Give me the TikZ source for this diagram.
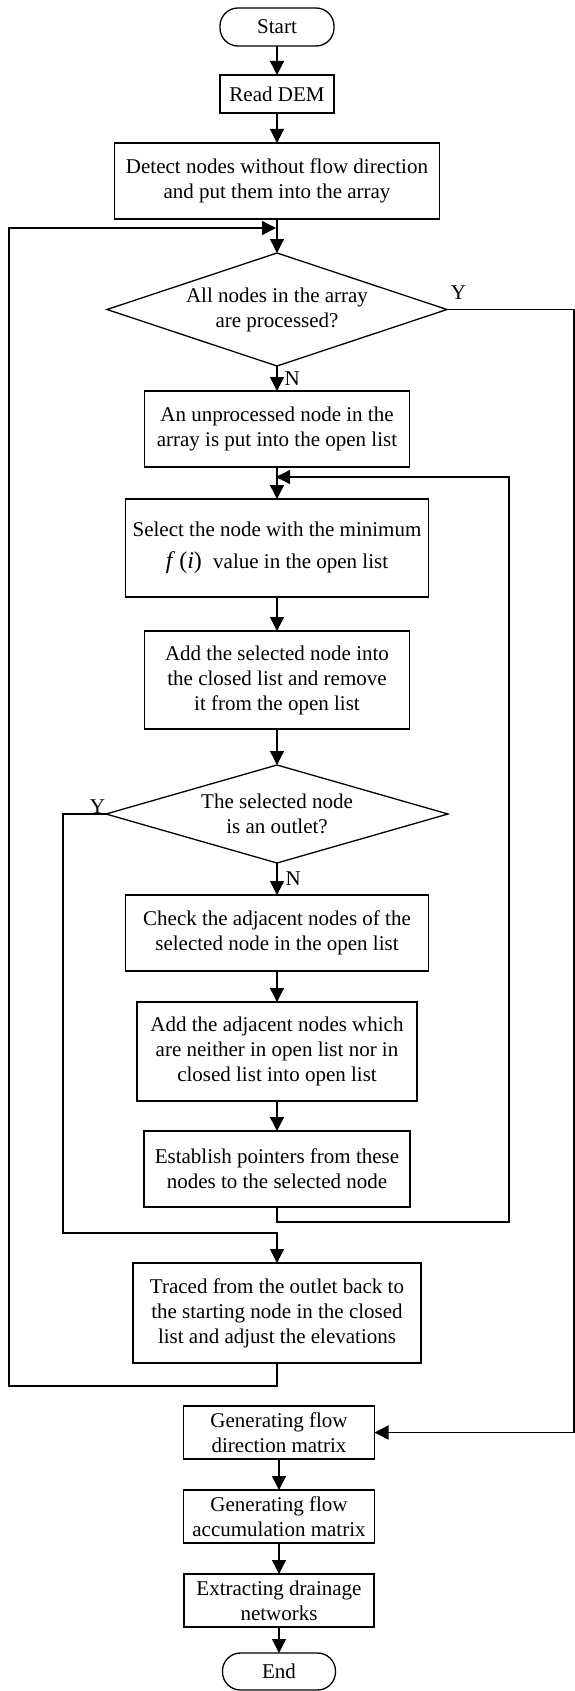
\documentclass[tikz,border=0pt]{standalone}
\usepackage{fontspec}
\setmainfont{Liberation Serif}
\usetikzlibrary{calc}
\usetikzlibrary{arrows.meta, positioning, shapes.geometric}

\begin{document}
\begin{tikzpicture}[
    x=1pt, y=1pt,
    every node/.style={font=\fontsize{21}{25}\selectfont},
    proc/.style={draw, line width=1.3pt, align=center, inner sep=0pt, outer sep=0pt},
    term/.style={proc, rounded corners=18pt},
    decision/.style={draw, diamond, aspect=3, line width=1.3pt, align=center, inner sep=0pt, outer sep=0pt},
    arrow/.style={-{Triangle[length=14pt, width=14pt]}, line width=1.3pt}
]
\useasboundingbox (0,0) rectangle (575,-1691);

% Nœuds
\node[term, minimum width=114pt, minimum height=38pt] (start) at (277,-27) {Start};
\node[proc, minimum width=114pt, minimum height=38pt, below=29pt of start] (read) {Read DEM};
\node[proc, minimum width=325pt, minimum height=76pt, below=30pt of read] (detect)
    {Detect nodes without flow direction\\and put them into the array};
\node[decision, minimum width=340pt, minimum height=113pt, below=34pt of detect] (q1)
    {All nodes in the array\\are processed?};
\node[proc, minimum width=265pt, minimum height=76pt, below=25pt of q1] (pick)
    {An unprocessed node in the\\array is put into the open list};
\node[proc, minimum width=303pt, minimum height=98pt, below=32pt of pick] (select)
    {Select the node with the minimum\\[7pt]{\fontsize{24}{25}\selectfont\textit{f}\,(\textit{i})}\hspace{6pt} value in the open list};
\node[proc, minimum width=265pt, minimum height=98pt, below=34pt of select] (close)
    {Add the selected node into\\the closed list and remove\\it from the open list};
\node[decision, minimum width=342pt, minimum height=98pt, below=36pt of close] (q2)
    {The selected node\\is an outlet?};
\node[proc, minimum width=303pt, minimum height=76pt, below=32pt of q2] (check)
    {Check the adjacent nodes of the\\selected node in the open list};
\node[proc, minimum width=280pt, minimum height=99pt, below=31pt of check] (addadj)
    {Add the adjacent nodes which\\are neither in open list nor in\\closed list into open list};
\node[proc, minimum width=266pt, minimum height=76pt, below=30pt of addadj] (point)
    {Establish pointers from these\\nodes to the selected node};
\node[proc, minimum width=288pt, minimum height=100pt, below=56pt of point] (trace)
    {Traced from the outlet back to\\the starting node in the closed\\list and adjust the elevations};
\node[proc, minimum width=191pt, minimum height=53pt, below=43pt of trace, xshift=2pt] (gendir)
    {Generating flow\\direction matrix};
\node[proc, minimum width=191pt, minimum height=53pt, below=31pt of gendir] (genacc)
    {Generating flow\\accumulation matrix};
\node[proc, minimum width=190pt, minimum height=53pt, below=31pt of genacc] (extract)
    {Extracting drainage\\networks};
\node[term, minimum width=113pt, minimum height=37pt, below=26pt of extract] (fin) {End};

% Points des boucles
\coordinate (mergeA) at ($(detect.south)+(-1,-9)$);
\coordinate (mergeB) at ($(pick.south)+(-1,-10)$);
\coordinate (loopL) at ($(trace.south)+(-268,-23)$);
\coordinate (loopR) at ($(point.south)+(232,-15)$);
\coordinate (ybend) at ($(point.south)+(-214,-26)$);
\coordinate (railR) at (574,0);

% Flèches principales
\draw[arrow] (start) -- (read);
\draw[arrow] (read) -- (detect);
\draw[arrow] (detect) -- (q1);
\draw[arrow] (q1) -- node[right=7pt, inner sep=0pt] {N} (pick);
\draw[arrow] (pick) -- (select);
\draw[arrow] (select) -- (close);
\draw[arrow] (close) -- (q2);
\draw[arrow] (q2) -- node[right=8pt, inner sep=0pt] {N} (check);
\draw[arrow] (check) -- (addadj);
\draw[arrow] (addadj) -- (point);
\draw[arrow] (gendir) -- (genacc);
\draw[arrow] (genacc) -- (extract);
\draw[arrow] (extract) -- (fin);

% Boucles
\draw[arrow] (point.south) |- (loopR) |- (mergeB);
\draw[arrow] (q2.west) -| node[pos=0.1, anchor=base, yshift=1pt] {Y} (ybend) -| (trace.north);
\draw[arrow] (trace.south) |- (loopL) |- (mergeA);
\draw[arrow] (q1.east) -- node[pos=0.09, anchor=base, yshift=10pt] {Y} (q1.east -| railR) |- (gendir.east);

\end{tikzpicture}
\end{document}
